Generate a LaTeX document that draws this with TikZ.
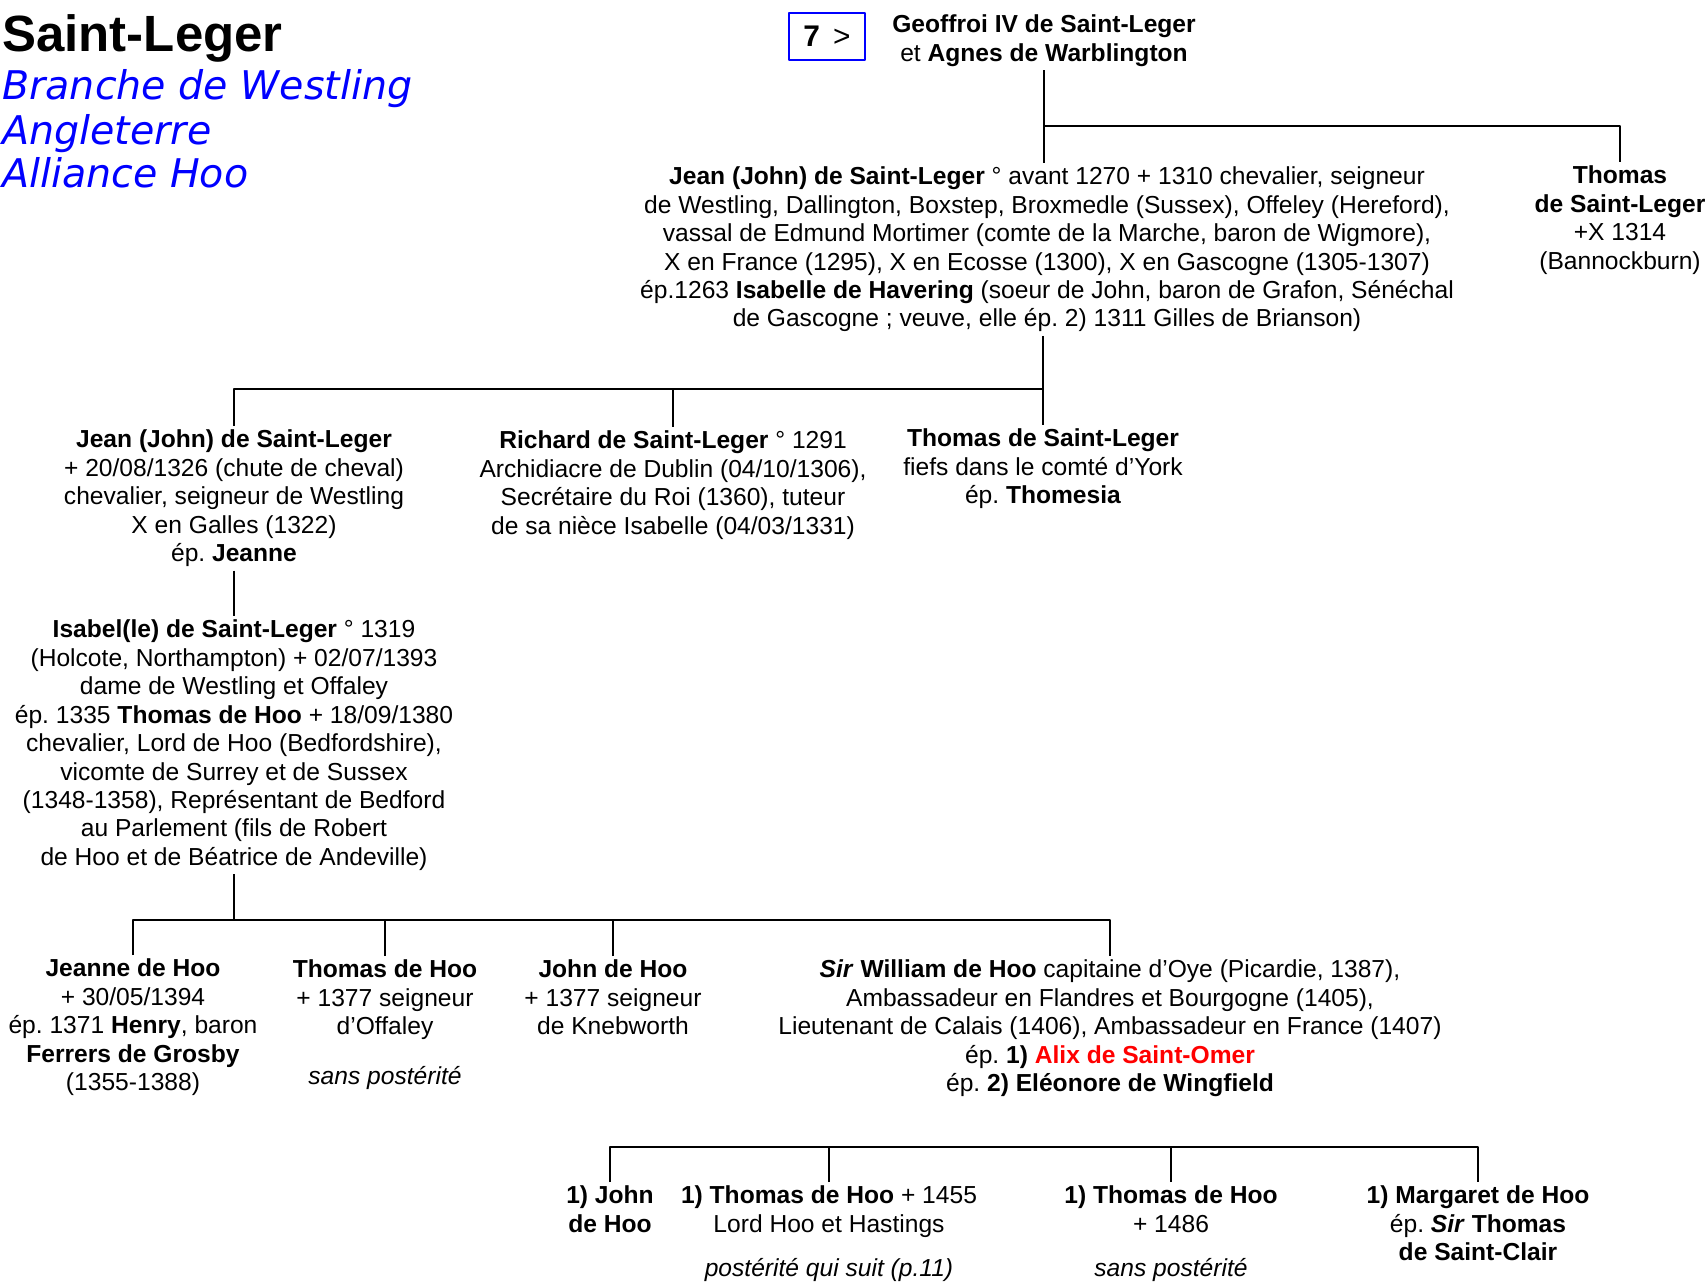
\documentclass[tikz,border=0pt]{standalone}
\usepackage{fontspec}
\setmainfont{Liberation Sans}
\newfontfamily\branchfont{DejaVu Sans}
\usepackage{xcolor}
\usetikzlibrary{positioning}
\frenchspacing

\tikzset{
    person/.style={anchor=north, align=center, inner sep=2pt, font=\fontsize{14}{16.2}\selectfont},
    link/.style={line width=1.3pt},
    branch/.style={anchor=base west, inner sep=0pt, text=blue, font=\branchfont\itshape\fontsize{22.5}{27}\selectfont},
}

\begin{document}
\begin{tikzpicture}[x=0.02cm, y=-0.02cm, line join=round]
    \useasboundingbox (0,0) rectangle (1707,1283);
    \node[anchor=base west, inner sep=0pt, font=\bfseries\fontsize{29}{34}\selectfont] (title) at (2,52) {Saint-Leger};
    \node[branch] (westling) at (2,100) {Branche de Westling};
    \node[branch] (angleterre) at (2,145) {Angleterre};
    \node[branch] (alliance) at (2,188) {Alliance Hoo};
    \node[draw=blue, line width=0.9pt, minimum width=1.52cm, minimum height=0.94cm, inner sep=0pt, font=\fontsize{17}{20}\selectfont] (box7) at (827,36.5) {\textbf{7}\, >};

    \node[person] (geoffroi) at (1044,11) {\textbf{Geoffroi IV de Saint-Leger}\\ et \textbf{Agnes de Warblington}};
    \node[person] (thomasR) at (1620,162) {\textbf{Thomas}\\ \textbf{de Saint-Leger}\\ +X 1314\\ (Bannockburn)};
    \node[person] (jean1) at (1047,163) {\textbf{Jean (John) de Saint-Leger} ° avant 1270 + 1310 chevalier, seigneur\\ de Westling, Dallington, Boxstep, Broxmedle (Sussex), Offeley (Hereford),\\ vassal de Edmund Mortimer (comte de la Marche, baron de Wigmore),\\ X en France (1295), X en Ecosse (1300), X en Gascogne (1305-1307)\\ ép.1263 \textbf{Isabelle de Havering} (soeur de John, baron de Grafon, Sénéchal\\ de Gascogne ; veuve, elle ép. 2) 1311 Gilles de Brianson)};

    \node[person] (jean2) at (234,426) {\textbf{Jean (John) de Saint-Leger}\\ + 20/08/1326 (chute de cheval)\\ chevalier, seigneur de Westling\\ X en Galles (1322)\\ ép. \textbf{Jeanne}};
    \node[person] (richard) at (673,427) {\textbf{Richard de Saint-Leger} ° 1291\\ Archidiacre de Dublin (04/10/1306),\\ Secrétaire du Roi (1360), tuteur\\ de sa nièce Isabelle (04/03/1331)};
    \node[person] (thomasM) at (1043,425) {\textbf{Thomas de Saint-Leger}\\ fiefs dans le comté d’York\\ ép. \textbf{Thomesia}};

    \node[person] (isabel) at (234,616) {\textbf{Isabel(le) de Saint-Leger} ° 1319\\ (Holcote, Northampton) + 02/07/1393\\ dame de Westling et Offaley\\ ép. 1335 \textbf{Thomas de Hoo} + 18/09/1380\\ chevalier, Lord de Hoo (Bedfordshire),\\ vicomte de Surrey et de Sussex\\ (1348-1358), Représentant de Bedford\\ au Parlement (fils de Robert\\ de Hoo et de Béatrice de Andeville)};

    \node[person] (jeanne) at (133,955) {\textbf{Jeanne de Hoo}\\ + 30/05/1394\\ ép. 1371 \textbf{Henry}, baron\\ \textbf{Ferrers de Grosby}\\ (1355-1388)};
    \node[person] (thomasH) at (385,956) {\textbf{Thomas de Hoo}\\ + 1377 seigneur\\ d’Offaley\\[12pt] \textit{sans postérité}};
    \node[person] (johnH) at (613,956) {\textbf{John de Hoo}\\ + 1377 seigneur\\ de Knebworth};
    \node[person] (william) at (1110,956) {\textbf{\textit{Sir} William de Hoo} capitaine d’Oye (Picardie, 1387),\\ Ambassadeur en Flandres et Bourgogne (1405),\\ Lieutenant de Calais (1406), Ambassadeur en France (1407)\\ ép. \textbf{1) \textcolor{red}{Alix de Saint-Omer}}\\ ép. \textbf{2) Eléonore de Wingfield}};

    \node[person] (john1) at (610,1182) {\textbf{1) John}\\ \textbf{de Hoo}};
    \node[person] (thomas1) at (829,1182) {\textbf{1) Thomas de Hoo} + 1455\\ Lord Hoo et Hastings\\[9pt] \textit{postérité qui suit (p.11)}};
    \node[person] (thomas2) at (1171,1182) {\textbf{1) Thomas de Hoo}\\ + 1486\\[9pt] \textit{sans postérité}};
    \node[person] (margaret) at (1478,1182) {\textbf{1) Margaret de Hoo}\\ ép. \textbf{\textit{Sir} Thomas}\\ \textbf{de Saint-Clair}};

    \coordinate (bar1) at (0,126);
    \coordinate (bar2) at (0,389);
    \coordinate (bar3) at (0,920);
    \coordinate (bar4) at (0,1147);

    \draw[link] (geoffroi.south) -- (geoffroi.south |- jean1.north);
    \draw[link] (geoffroi.south |- bar1) -| (thomasR.north);

    \draw[link] (jean1.south -| thomasM.north) -- (thomasM.north);
    \draw[link] (jean2.north) |- (bar2 -| thomasM.north);
    \draw[link] (richard.north) -- (richard.north |- bar2);

    \draw[link] (jean2.south) -- (isabel.north);

    \draw[link] (isabel.south) -- (isabel.south |- bar3);
    \draw[link] (jeanne.north) |- (bar3 -| william.north) -- (william.north);
    \draw[link] (thomasH.north) -- (thomasH.north |- bar3);
    \draw[link] (johnH.north) -- (johnH.north |- bar3);

    \draw[link] (john1.north) |- (bar4 -| margaret.north) -- (margaret.north);
    \draw[link] (thomas1.north) -- (thomas1.north |- bar4);
    \draw[link] (thomas2.north) -- (thomas2.north |- bar4);
\end{tikzpicture}
\end{document}
